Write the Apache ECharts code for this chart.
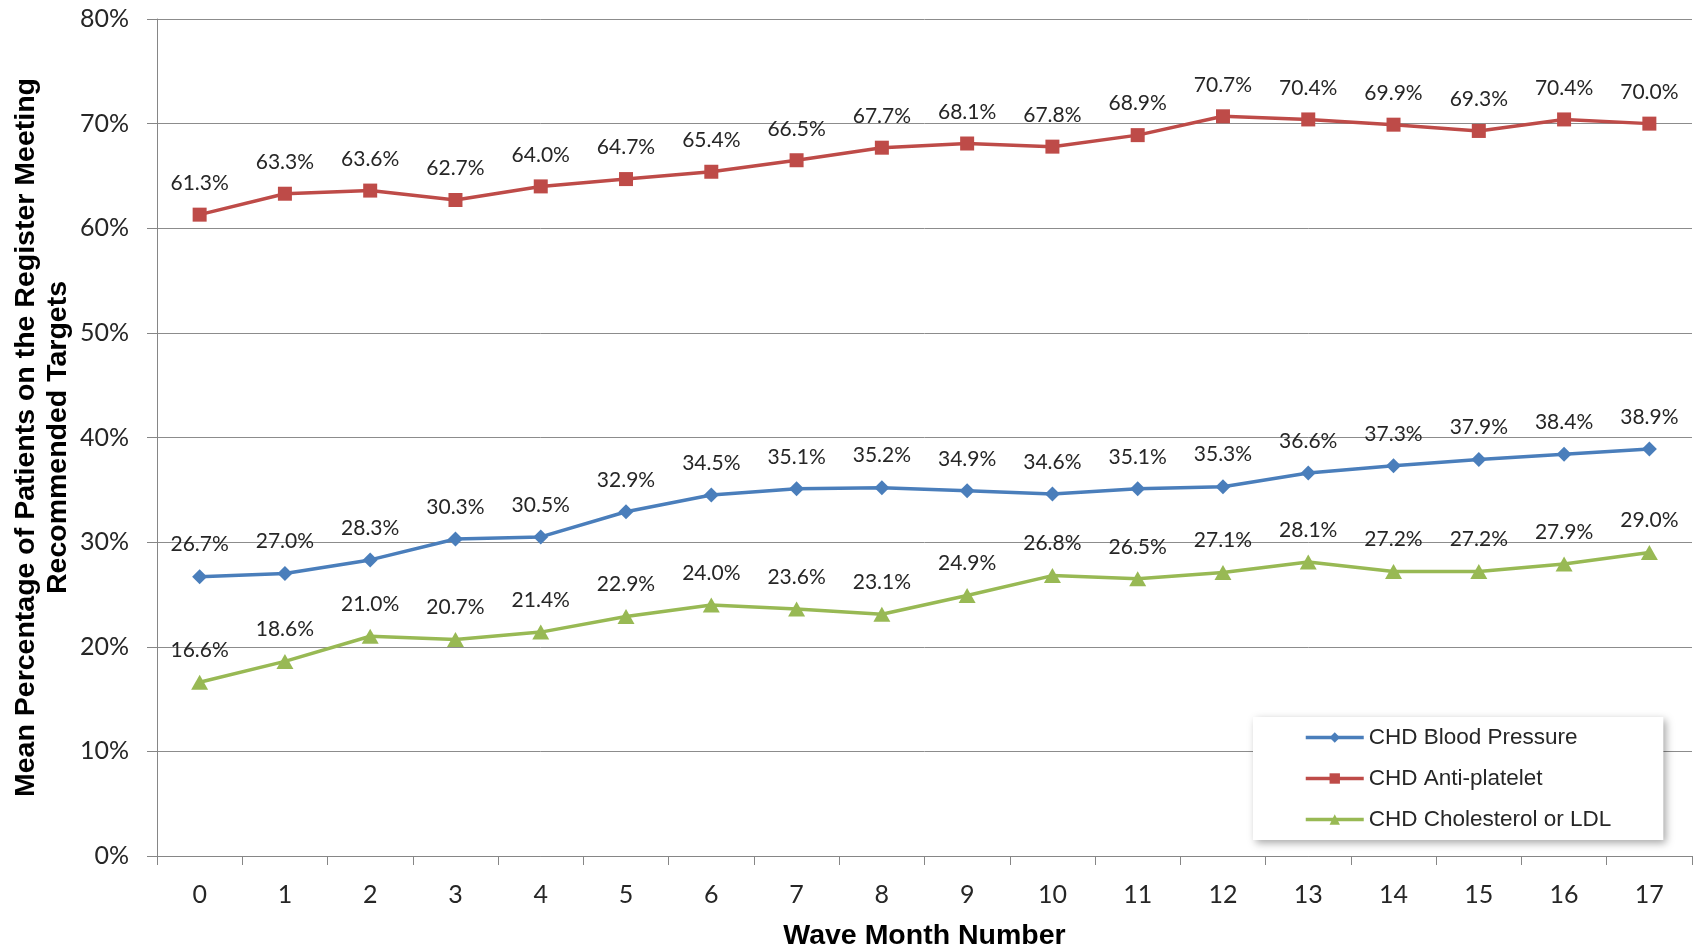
<!DOCTYPE html>
<html>
<head>
<meta charset="utf-8">
<script src="https://cdn.jsdelivr.net/npm/echarts@6/dist/echarts.min.js"></script>
<style>
  html, body { margin: 0; padding: 0; background: #fff; }
  #chart { width: 1696px; height: 949px; }
</style>
</head>
<body>
<div id="chart"></div>
<script>
// Wave month numbers along the x axis
const waveMonths = ['0','1','2','3','4','5','6','7','8','9','10','11','12','13','14','15','16','17'];

// Mean percentage of patients meeting each recommended target
const bloodPressure = [26.7, 27.0, 28.3, 30.3, 30.5, 32.9, 34.5, 35.1, 35.2, 34.9, 34.6, 35.1, 35.3, 36.6, 37.3, 37.9, 38.4, 38.9];
const antiPlatelet  = [61.3, 63.3, 63.6, 62.7, 64.0, 64.7, 65.4, 66.5, 67.7, 68.1, 67.8, 68.9, 70.7, 70.4, 69.9, 69.3, 70.4, 70.0];
const cholesterol   = [16.6, 18.6, 21.0, 20.7, 21.4, 22.9, 24.0, 23.6, 23.1, 24.9, 26.8, 26.5, 27.1, 28.1, 27.2, 27.2, 27.9, 29.0];

const seriesNames = ['CHD Blood Pressure', 'CHD Anti-platelet', 'CHD Cholesterol or LDL'];

const labelFont = 'Lato, "Open Sans", sans-serif';
const titleFont = '"Liberation Sans", Arial, sans-serif';

function lineSeries(name, data, color, symbol, size) {
  return {
    name: name,
    type: 'line',
    data: data,
    symbol: symbol,
    symbolSize: size,
    showAllSymbol: true,
    lineStyle: { color: color, width: 3.5 },
    itemStyle: { color: color },
    label: {
      show: true,
      position: 'top',
      distance: 14,
      fontFamily: labelFont,
      fontSize: 21,
      color: '#262626',
      formatter: p => p.value.toFixed(1) + '%'
    },
    emphasis: { disabled: true },
    animation: false
  };
}

const chart = echarts.init(document.getElementById('chart'));
chart.setOption({
  backgroundColor: '#ffffff',
  animation: false,
  grid: { left: 157, right: 4, top: 19, bottom: 93, containLabel: false, outerBoundsMode: 'none' },
  legend: {
    orient: 'vertical',
    left: 1253,
    top: 717,
    padding: [9, 52, 9, 51],
    itemGap: 18,
    itemWidth: 58,
    itemHeight: 13,
    backgroundColor: '#ffffff',
    shadowColor: 'rgba(0,0,0,0.35)',
    shadowBlur: 8,
    shadowOffsetX: 3,
    shadowOffsetY: 3,
    lineStyle: { width: 3.5 },
    textStyle: { fontFamily: titleFont, fontSize: 22.5, color: '#262626', padding: [0, 0, 0, 0] },
    data: seriesNames
  },
  xAxis: {
    type: 'category',
    data: waveMonths,
    boundaryGap: true,
    name: 'Wave Month Number',
    nameLocation: 'middle',
    nameGap: 66,
    nameMoveOverlap: false,
    nameTextStyle: { fontFamily: titleFont, fontSize: 28.5, fontWeight: 'bold', color: '#000' },
    axisLine: { show: true, lineStyle: { color: '#868686', width: 1 } },
    axisTick: { show: true, length: 9, lineStyle: { color: '#868686' } },
    axisLabel: { fontFamily: labelFont, fontSize: 25, color: '#262626', margin: 26 }
  },
  yAxis: {
    type: 'value',
    min: 0,
    max: 80,
    interval: 10,
    name: 'Mean Percentage of Patients on the Register Meeting\nRecommended Targets',
    nameLocation: 'middle',
    nameRotate: 90,
    nameGap: 83,
    nameMoveOverlap: false,
    nameTextStyle: { fontFamily: titleFont, fontSize: 28.5, fontWeight: 'bold', color: '#000', lineHeight: 32 },
    axisLine: { show: true, lineStyle: { color: '#868686', width: 1 } },
    axisTick: { show: true, length: 10, lineStyle: { color: '#868686' } },
    axisLabel: { fontFamily: labelFont, fontSize: 25, color: '#262626', margin: 28, formatter: '{value}%' },
    splitLine: { show: true, lineStyle: { color: '#8c8c8c', width: 1 } }
  },
  series: [
    lineSeries(seriesNames[0], bloodPressure, '#4a7ebb', 'diamond', 15),
    lineSeries(seriesNames[1], antiPlatelet, '#be4b48', 'rect', 14),
    lineSeries(seriesNames[2], cholesterol, '#98b954', 'triangle', [17, 15])
  ]
});
</script>
</body>
</html>
